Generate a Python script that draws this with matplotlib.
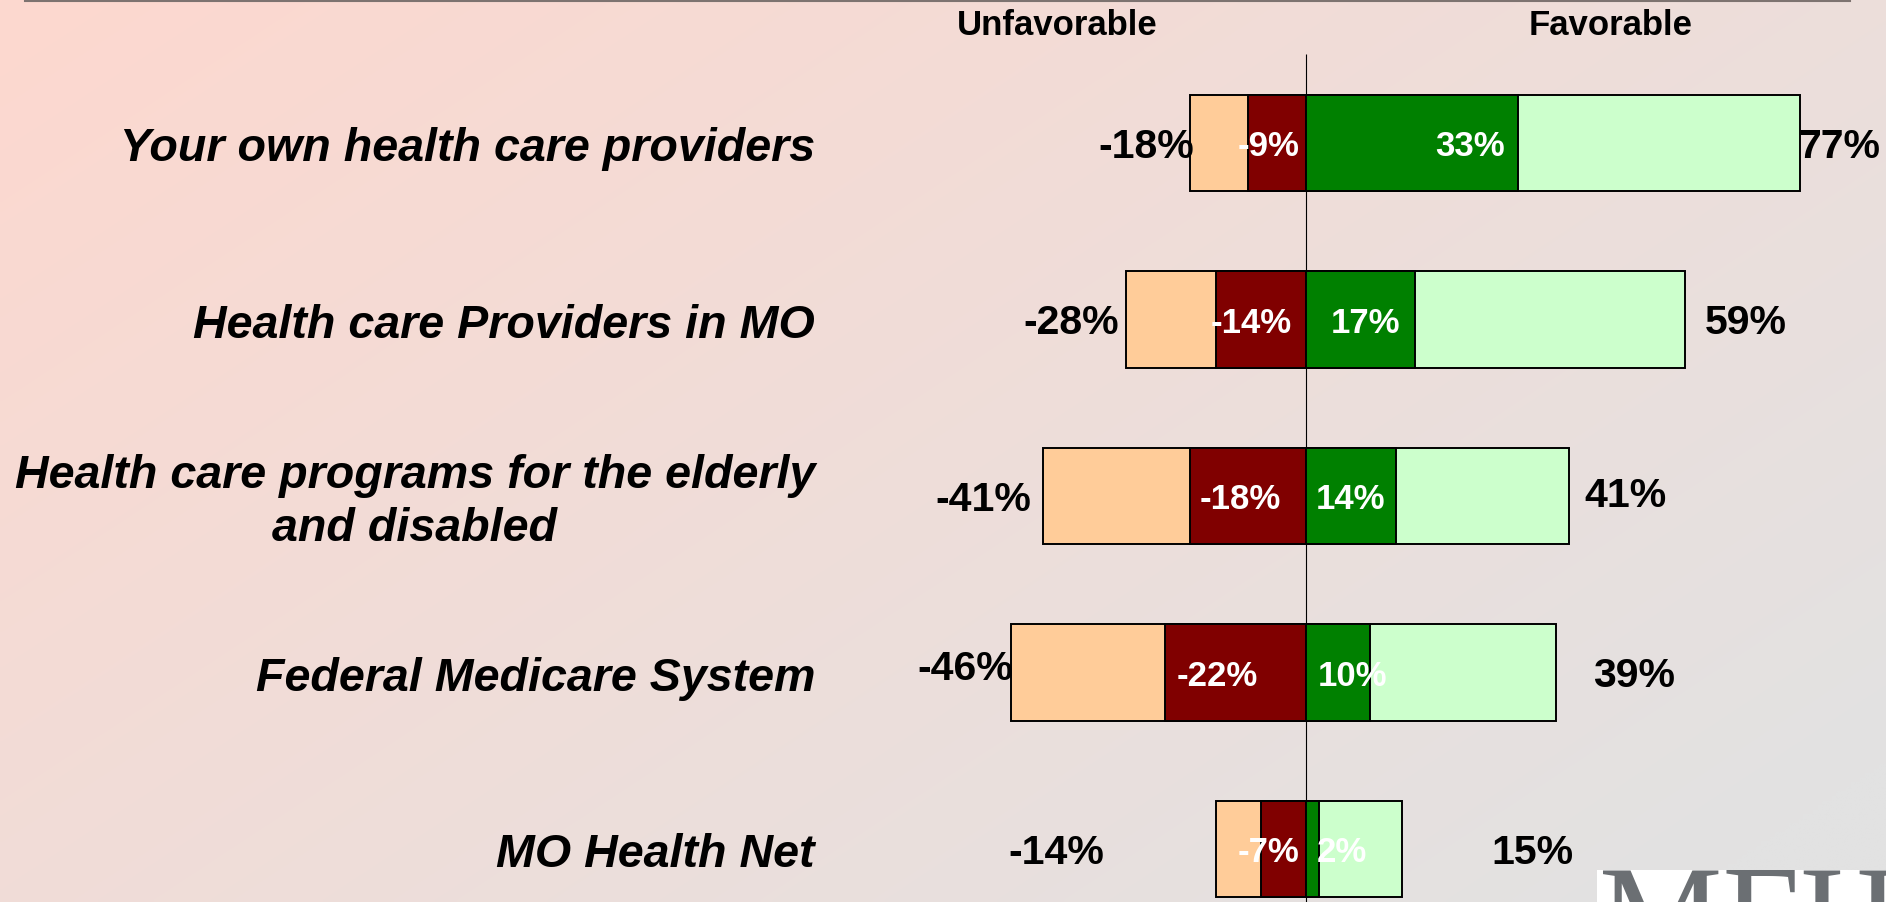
import numpy as np
import matplotlib
matplotlib.use("Agg")
import matplotlib.pyplot as plt
from matplotlib.lines import Line2D

# ---------------- data ----------------
categories = [
    "Your own health care providers",
    "Health care Providers in MO",
    "Health care programs for the elderly\nand disabled",
    "Federal Medicare System",
    "MO Health Net",
]
total_unfav = [-18, -28, -41, -46, -14]
strong_unfav = [-9, -14, -18, -22, -7]
strong_fav = [33, 17, 14, 10, 2]
total_fav = [77, 59, 41, 39, 15]

# label layout (x centres in chart units, hand placed as in the original slide)
total_unfav_label_x = [-24.9, -36.5, -50.2, -53.0, -38.9]
total_unfav_label_dy = [0.0, 0.0, 0.0, -0.04, 0.0]
total_fav_label_x = [83.0, 68.5, 49.7, 51.1, 35.2]
total_fav_label_dy = [0.0, 0.0, -0.02, 0.0, 0.0]
strong_unfav_label_x = [-5.9, -8.6, -10.3, -13.9, -5.9]
strong_fav_label_x = [25.5, 9.2, 7.0, 7.3, 5.6]

W, H = 1886, 902
fig = plt.figure(figsize=(W / 100, H / 100), dpi=100)

# ---------------- background gradient ----------------
bg = fig.add_axes([0, 0, 1, 1], zorder=-10)
xx = np.linspace(0, 1, 400)
yy = np.linspace(0, 1, 200)
X, Y = np.meshgrid(xx, yy)
t = np.clip(0.62 * X + 0.45 * Y, 0, 1)
c0 = np.array([253, 216, 207]) / 255.0
c1 = np.array([226, 226, 226]) / 255.0
img = c0[None, None, :] + t[..., None] * (c1 - c0)[None, None, :]
bg.imshow(img, extent=[0, 1, 1, 0], aspect="auto", interpolation="bilinear")
bg.set_xlim(0, 1)
bg.set_ylim(1, 0)
bg.axis("off")

# ---------------- main axes ----------------
ax = fig.add_axes([0, 0, 1, 1])
ax.patch.set_alpha(0)
px_per_pct = 6.42
zero_px = 1306
ax.set_xlim(-zero_px / px_per_pct, (W - zero_px) / px_per_pct)
row_px = 176.5
first_px = 143
n = len(categories)
ax.set_ylim(n - 1 + (H - first_px - (n - 1) * row_px) / row_px, -first_px / row_px)

y = np.arange(n)
bh = 0.544
ekw = dict(edgecolor="black", linewidth=1.4)

ax.vlines(0, -0.504, 10, color="black", linewidth=0.8, zorder=1)

ax.barh(y, total_unfav, height=bh, color="#FFCC99", zorder=2, **ekw)
ax.barh(y, total_fav, height=bh, color="#CCFFCC", zorder=2, **ekw)
ax.barh(y, strong_unfav, height=bh, color="#800000", zorder=3, **ekw)
ax.barh(y, strong_fav, height=bh, color="#008000", zorder=3, **ekw)

font = "Liberation Sans"
tdy = 0.02  # visual centring of text on bars
for i in range(n):
    ax.text(total_unfav_label_x[i], y[i] + total_unfav_label_dy[i] + tdy, f"{total_unfav[i]}%",
            ha="center", va="center", fontsize=29.5, fontweight="bold",
            family=font, color="black", zorder=5)
    ax.text(total_fav_label_x[i], y[i] + total_fav_label_dy[i] + tdy, f"{total_fav[i]}%",
            ha="center", va="center", fontsize=29.5, fontweight="bold",
            family=font, color="black", zorder=5)
    ax.text(strong_unfav_label_x[i], y[i] + tdy, f"{strong_unfav[i]}%",
            ha="center", va="center", fontsize=25, fontweight="bold",
            family=font, color="white", zorder=5)
    ax.text(strong_fav_label_x[i], y[i] + tdy, f"{strong_fav[i]}%",
            ha="center", va="center", fontsize=25, fontweight="bold",
            family=font, color="white", zorder=5)

# headers
hy = -first_px / row_px + 26 / row_px
ax.text((1057 - zero_px) / px_per_pct, hy, "Unfavorable", ha="center", va="center",
        fontsize=25, fontweight="bold", family=font)
ax.text((1611 - zero_px) / px_per_pct, hy, "Favorable", ha="center", va="center",
        fontsize=25, fontweight="bold", family=font)

# category labels
label_x = (815 - zero_px) / px_per_pct
for i, cat in enumerate(categories):
    ax.text(label_x, y[i] + 0.035, cat, ha="right", va="center", multialignment="center",
            fontsize=33.6, fontweight="bold", fontstyle="italic", family=font,
            linespacing=1.27)

ax.set_xticks([])
ax.set_yticks([])
for s in ax.spines.values():
    s.set_visible(False)

# top rule
fig.add_artist(Line2D([25 / W, 1850 / W], [1 - 1.2 / H, 1 - 1.2 / H],
                      color="#7d7370", linewidth=1.5))

# partial logo at bottom right
lax = fig.add_axes([1597 / W, 0, (W - 1597) / W, 32 / H])
lax.set_facecolor("white")
lax.set_xlim(0, W - 1597)
lax.set_ylim(32, 0)
lax.set_xticks([])
lax.set_yticks([])
for s in lax.spines.values():
    s.set_visible(False)
lax.text(2, 92, "MFH", fontsize=100, family="Liberation Serif", color="#6b6f73",
         va="baseline", ha="left", clip_on=True)

fig.savefig("out.png", dpi=100)
